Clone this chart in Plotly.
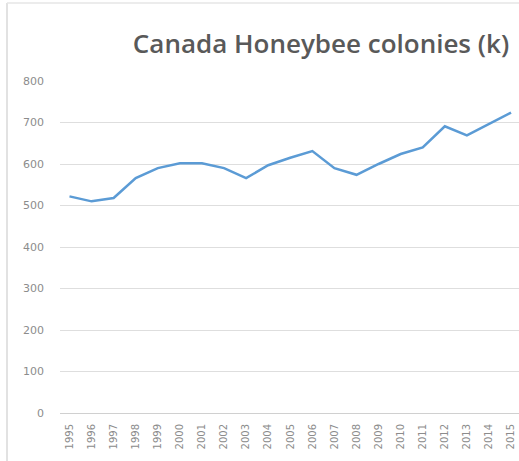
import plotly.graph_objects as go

years = [str(y) for y in range(1995, 2016)]
colonies = [522, 510, 518, 566, 590, 602, 602, 590, 566, 597, 615, 631,
            590, 574, 600, 624, 640, 691, 669, 697, 724]
y_ticks = [0, 100, 200, 300, 400, 500, 600, 700, 800]

W, H = 519, 461
L, R, T, B = 60, 0, 81, 48
pw, ph = W - L - R, H - T - B


def px_x(p):
    return (p - L) / pw


def px_y(p):
    return 1 + (T - p) / ph


fig = go.Figure()
fig.add_trace(go.Scatter(
    x=list(range(len(years))), y=colonies, mode="lines",
    line=dict(color="#5b9bd5", width=2.5),
    hoverinfo="skip", showlegend=False,
))

fig.update_layout(
    width=W, height=H,
    margin=dict(l=L, r=R, t=T, b=B, pad=0),
    paper_bgcolor="white", plot_bgcolor="white",
    title=dict(text="Canada Honeybee colonies (k)",
               font=dict(family="Open Sans", size=26, color="#595959", weight=600),
               x=321 / W, xanchor="center", xref="container",
               y=1 - 44 / H, yanchor="middle", yref="container"),
    xaxis=dict(
        range=[-0.43, 20.36],
        tickmode="array", tickvals=list(range(len(years))), ticktext=years,
        tickangle=-90, tickfont=dict(family="DejaVu Sans", size=10, color="#8c8c8c"),
        showgrid=False, zeroline=False, showline=True, linecolor="#d0d0d0",
        linewidth=1, ticks="", fixedrange=True, ticklabelstandoff=6,
    ),
    yaxis=dict(
        range=[0, 800], tickvals=y_ticks,
        tickfont=dict(family="DejaVu Sans", size=11, color="#8c8c8c"),
        showgrid=True, gridcolor="#dedede", gridwidth=1,
        zeroline=False, showline=False, ticks="", ticklabelstandoff=15,
        fixedrange=True,
    ),
    shapes=[
        dict(type="line", xref="paper", yref="paper",
             x0=px_x(7), x1=px_x(7), y0=px_y(H), y1=px_y(3),
             line=dict(color="#d9d9d9", width=1.5)),
        dict(type="line", xref="paper", yref="paper",
             x0=px_x(7), x1=1, y0=px_y(3), y1=px_y(3),
             line=dict(color="#e6e6e6", width=1.5)),
    ],
)

fig.write_html("out.html", config={"displayModeBar": False},
               post_script="document.body.style.margin='0';")
